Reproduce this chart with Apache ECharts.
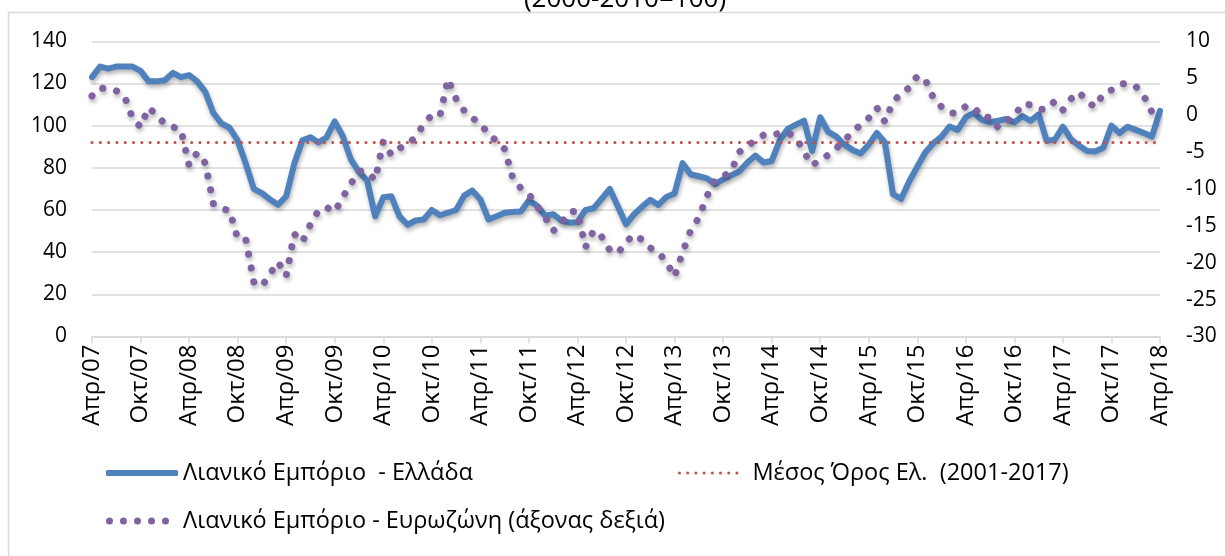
<!DOCTYPE html>
<html>
<head>
<meta charset="utf-8">
<script src="https://cdn.jsdelivr.net/npm/echarts@6/dist/echarts.min.js"></script>
<style>
html,body{margin:0;padding:0;background:#fff;}
#chart{width:1225px;height:556px;}
</style>
</head>
<body>
<div id="chart"></div>
<script>
// ---- data ----
const monthNames = ["Ιαν","Φεβ","Μαρ","Απρ","Μαϊ","Ιουν","Ιουλ","Αυγ","Σεπ","Οκτ","Νοε","Δεκ"];
const firstYear = 2007, firstMonth = 3;   // April 2007
const monthCount = 133;                    // through April 2018

const titleText = "(2000-2010=100)";
const nameGreece = "Λιανικό Εμπόριο  - Ελλάδα";
const nameAverage = "Μέσος Όρος Ελ.  (2001-2017)";
const nameEurozone = "Λιανικό Εμπόριο - Ευρωζώνη (άξονας δεξιά)";

// Retail trade Greece (left axis)
const greece = [
 123,128,127,128,128,128,126,121,121,121.5,125,123,
 124,121,116,106,101,99,93,82,70,68,65,62.5,
 66.5,82,93,94.5,92,94.5,102,95,84,78,74,57,
 66,66.5,57,53,55,55.5,60,57.5,58.7,60,66.8,69.2,
 65,55.5,57,58.7,59,59.3,64.5,62,57.3,58,55,54,
 54.2,60,60.8,65.3,70,61.6,53.2,58,61.6,64.8,62.4,66.2,
 67.8,82.2,76.8,76,75,72.3,74.5,76.4,78.2,82.5,85.8,82.5,
 83.2,93,98.5,100.5,102.4,88,104,97,94.8,90.9,88.5,86.8,
 91,96.5,92,67.5,65.2,73.5,80.5,87.4,91.7,94.8,99.6,98,
 104,106,102.7,101.6,102.3,103.2,101.6,104.5,102.3,105.3,92.8,93.3,
 99.5,93.5,90.5,88,87.7,89.5,100,96.5,99.5,98,96.5,94.8,
 107
];
// Greek long-run average (left axis)
const greeceAverage = 92;
// Retail trade Eurozone (right axis)
const eurozone = [
 2.6,3.7,3.5,3.3,2.6,-0.4,-1.6,1.0,0.0,-1.2,-1.6,-2.0,
 -6.8,-5.1,-6.5,-12.0,-12.7,-12.9,-16.7,-16.8,-22.6,-23.2,-21.5,-19.9,
 -21.8,-16.1,-17.2,-14.8,-12.9,-12.5,-13.1,-11.1,-9.3,-7.6,-7.7,-8.8,
 -3.6,-5.4,-4.5,-3.9,-3.0,-1.2,0.0,-0.1,4.9,2.2,0.6,-0.4,
 -1.1,-2.6,-3.5,-4.6,-8.5,-9.9,-10.7,-12.3,-13.8,-15.7,-14.6,-13.1,
 -13.0,-17.9,-15.6,-16.5,-18.3,-18.7,-17.2,-16.2,-16.9,-18.0,-18.6,-19.9,
 -21.9,-18.6,-15.6,-13.9,-11.0,-8.8,-8.3,-7.6,-5.0,-4.2,-3.4,-2.7,
 -2.8,-2.4,-2.4,-3.0,-5.0,-6.8,-6.1,-5.4,-4.5,-3.4,-2.3,-1.3,
 -0.4,1.0,-0.9,1.8,2.9,3.7,5.3,4.8,2.3,1.1,0.3,0.3,
 1.2,1.1,-0.3,-0.3,-1.7,-0.8,-0.1,1.5,1.4,0.8,0.8,1.9,
 0.7,2.2,3.1,1.8,1.1,2.9,3.4,4.2,4.3,3.9,2.6,0.4,
 null
];
const leftTicks = {min:0, max:140, interval:20};
const rightTicks = {min:-30, max:10, interval:5};
const labelEvery = 6;

// categories built from month names
const categories = [];
for (let k = 0; k < monthCount; k++) {
  const m = (firstMonth + k) % 12;
  const y = firstYear + Math.floor((firstMonth + k) / 12);
  categories.push(monthNames[m] + "/" + String(y).slice(2));
}

// legend icon made of round dots
function dotsPath(count, r, step) {
  let p = "path://";
  for (let k = 0; k < count; k++) {
    const cx = r + k * step;
    p += "M" + (cx - r) + " " + r + "A" + r + " " + r + " 0 1 0 " + (cx + r) + " " + r +
         "A" + r + " " + r + " 0 1 0 " + (cx - r) + " " + r + "Z";
  }
  return p;
}

// ---- chart ----
const FONT = "Open Sans";
const TXT = "#000";
const chart = echarts.init(document.getElementById("chart"), null, {renderer: "canvas"});
const shadow = {shadowColor: "rgba(0,0,0,0.3)", shadowBlur: 4, shadowOffsetX: 1, shadowOffsetY: 3};

chart.setOption({
  animation: false,
  backgroundColor: "#fff",
  textStyle: {fontFamily: FONT},
  graphic: [
    {type: "rect", silent: true, z: -10,
     shape: {x: 8.5, y: 12.5, width: 1240, height: 600},
     style: {fill: "none", stroke: "#d9d9d9", lineWidth: 1.5}},
    {type: "text", silent: true, x: 625, y: 13,
     style: {text: titleText, fontFamily: FONT, fontSize: 26, fill: TXT,
             textAlign: "center", textVerticalAlign: "bottom", verticalAlign: "bottom"}}
  ],
  grid: {left: 92, right: 65, top: 41.3, bottom: 219.5, containLabel: false},
  legend: [
    {data: [nameGreece], left: 101, top: 456, itemWidth: 72, itemHeight: 6, icon: "roundRect",
     textStyle: {fontFamily: FONT, fontSize: 23.5, color: TXT}},
    {data: [nameAverage], left: 673, top: 456, itemWidth: 60.4, itemHeight: 3, icon: dotsPath(8, 1.5, 8.2),
     textStyle: {fontFamily: FONT, fontSize: 23.5, color: TXT, padding: [0,0,0,9]}},
    {data: [nameEurozone], left: 101, top: 504, itemWidth: 63, itemHeight: 7, icon: dotsPath(5, 3.5, 14),
     textStyle: {fontFamily: FONT, fontSize: 23.5, color: TXT, padding: [0,0,0,9]}}
  ],
  xAxis: {
    type: "category", data: categories, boundaryGap: false,
    axisLine: {lineStyle: {color: "#d9d9d9", width: 1.5}},
    axisTick: {show: true, interval: labelEvery - 1, length: 7, lineStyle: {color: "#d9d9d9", width: 1.5}},
    axisLabel: {interval: labelEvery - 1, rotate: 90, fontSize: 24, color: TXT, fontFamily: FONT, margin: 8},
    splitLine: {show: false}
  },
  yAxis: [
    {type: "value", min: leftTicks.min, max: leftTicks.max, interval: leftTicks.interval,
     axisLine: {show: false}, axisTick: {show: false},
     axisLabel: {fontSize: 21, color: TXT, fontFamily: FONT, margin: 25},
     splitLine: {lineStyle: {color: "#d9d9d9", width: 1.5}}},
    {type: "value", min: rightTicks.min, max: rightTicks.max, interval: rightTicks.interval,
     axisLine: {show: false}, axisTick: {show: false},
     axisLabel: {fontSize: 21, color: TXT, fontFamily: FONT, margin: 26},
     splitLine: {show: false}}
  ],
  series: [
    {name: nameGreece, type: "line", yAxisIndex: 0, data: greece, z: 3,
     symbol: "none", showSymbol: false, smooth: false,
     lineStyle: Object.assign({color: "#4F81BD", width: 6, cap: "round", join: "round"}, shadow),
     itemStyle: {color: "#4F81BD"}},
    {name: nameAverage, type: "line", yAxisIndex: 0, data: [], z: 2,
     symbol: "none", showSymbol: false,
     lineStyle: {color: "#C0504D", width: 3, type: [0.1, 8.2], cap: "round"},
     itemStyle: {color: "#C0504D"},
     markLine: {silent: true, symbol: ["none", "none"], label: {show: false},
       lineStyle: {color: "#C0504D", width: 3, type: [0.1, 8.2], cap: "round"},
       data: [{yAxis: greeceAverage}]}},
    {name: nameEurozone, type: "line", yAxisIndex: 1, data: eurozone, z: 4,
     symbol: "none", showSymbol: false, smooth: false,
     lineStyle: Object.assign({color: "#8064A2", width: 7, type: [0.1, 14], cap: "round", join: "round"}, shadow),
     itemStyle: {color: "#8064A2"}}
  ]
});
</script>
</body>
</html>
